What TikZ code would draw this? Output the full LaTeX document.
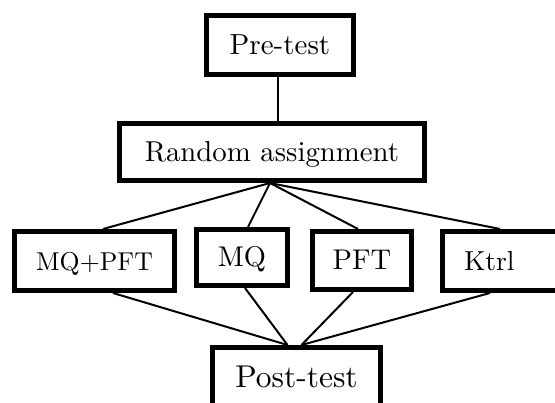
\documentclass[tikz,border=0pt]{standalone}
\usepackage{fontspec}
\setmainfont{lmroman10-regular.otf}
\usetikzlibrary{positioning}
\begin{document}
\begin{tikzpicture}[x=1pt,y=-1pt,
  box/.style={draw=black,line width=5pt,fill=white,rectangle,inner sep=0pt,
    text height=18.8pt,text depth=0pt,font=\fontsize{27.5}{30}\selectfont},
  link/.style={draw=black,line width=2pt}]
\clip (0,0) rectangle (555,403);
\fill[white] (0,0) rectangle (555,403);
\node[box,minimum width=147pt,minimum height=59pt,font=\fontsize{29}{32}\selectfont] (pre) at (280,45) {Pre-test};
\node[box,minimum width=305pt,minimum height=57pt,font=\fontsize{28.8}{32}\selectfont] (ra) at (272,152) {Random assignment};
\node[box,minimum width=160pt,minimum height=59pt,font=\fontsize{25.8}{30}\selectfont] (mqpft) at (94.5,261) {MQ+PFT};
\node[box,minimum width=91pt,minimum height=56pt,font=\fontsize{28.5}{30}\selectfont] (mq) at (242,257.5) {MQ};
\node[box,minimum width=99pt,minimum height=58pt,font=\fontsize{28.5}{30}\selectfont] (pft) at (362,260.5) {PFT};
\node[box,anchor=west,minimum height=59pt,text width=100pt,align=left,inner xsep=22pt] (ktrl) at (439.5,261) {Ktrl};
\node[box,minimum width=168pt,minimum height=59pt,text height=21pt,font=\fontsize{31.5}{34}\selectfont] (post) at (296.5,377) {Post-test};
\coordinate (ras) at ([xshift=-2pt]ra.south);
\coordinate (postl) at ([xshift=-9pt]post.north);
\coordinate (postr) at ([xshift=5pt]post.north);
\draw[link] ([xshift=-2pt]pre.south) -- ([xshift=-2pt]pre.south |- ra.north);
\draw[link] (ras) -- ([xshift=8.5pt]mqpft.north);
\draw[link] (ras) -- ([xshift=6pt]mq.north);
\draw[link] (ras) -- ([xshift=-4pt]pft.north);
\draw[link] (ras) -- ([xshift=60.5pt]ktrl.north west);
\draw[link] ([xshift=18.5pt]mqpft.south) -- (postl);
\draw[link] ([xshift=3pt]mq.south) -- (postl);
\draw[link] ([xshift=-9pt]pft.south) -- (postr);
\draw[link] ([xshift=50.5pt]ktrl.south west) -- (postr);
\end{tikzpicture}
\end{document}
